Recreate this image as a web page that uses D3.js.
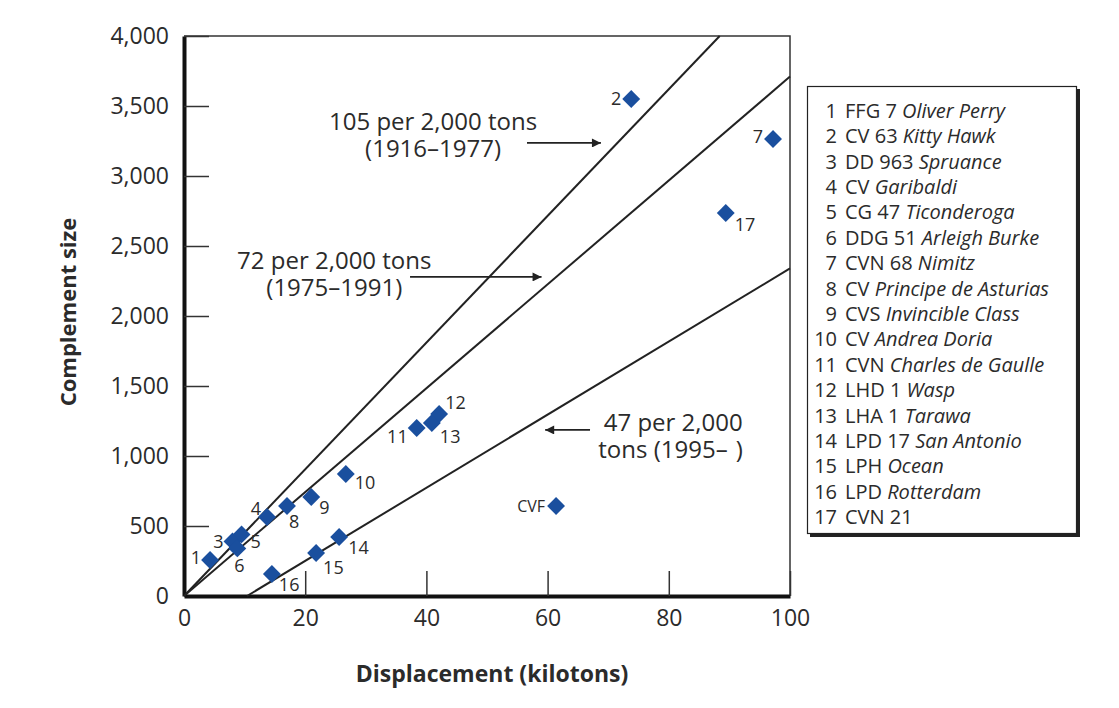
<!DOCTYPE html>
<html>
<head>
<meta charset="utf-8">
<script src="https://cdn.jsdelivr.net/npm/d3@7"></script>
<style>
  body { margin: 0; background: #fff; }
  text { font-family: "Open Sans", "Noto Sans", sans-serif; fill: #2b2b2b; }
</style>
</head>
<body>
<div id="chart"></div>
<script>
// ship points (displacement in kilotons, complement)
var shipLabels   = ["1","2","3","4","5","6","7","8","9","10","11","12","13","14","15","16","17","CVF"];
var displacement = [4.3, 73.8, 8.0, 13.7, 9.5, 8.8, 97.2, 17.0, 21.0, 26.7, 38.4, 42.1, 40.9, 25.6, 21.8, 14.5, 89.4, 61.4];
var complement   = [257, 3550, 390, 564, 440, 340, 3264, 643, 707, 871, 1200, 1300, 1236, 421, 307, 157, 2736, 643];

// trend lines, end points
var trendNames = ["105 per 2,000 tons", "72 per 2,000 tons", "47 per 2,000 tons"];
var trendX0 = [0, 0, 10.4];
var trendY0 = [0, 0, 0];
var trendX1 = [88.4, 100, 100];
var trendY1 = [4000, 3710, 2340];

// legend
var legendNum   = ["1","2","3","4","5","6","7","8","9","10","11","12","13","14","15","16","17"];
var legendClass = ["FFG 7","CV 63","DD 963","CV","CG 47","DDG 51","CVN 68","CV","CVS","CV","CVN","LHD 1","LHA 1","LPD 17","LPH","LPD","CVN 21"];
var legendName  = ["Oliver Perry","Kitty Hawk","Spruance","Garibaldi","Ticonderoga","Arleigh Burke","Nimitz",
                   "Principe de Asturias","Invincible Class","Andrea Doria","Charles de Gaulle","Wasp","Tarawa",
                   "San Antonio","Ocean","Rotterdam",""];

var xTicks = [0, 20, 40, 60, 80, 100];
var yTicks = [0, 500, 1000, 1500, 2000, 2500, 3000, 3500, 4000];

// where each point label sits relative to its marker
var labelPos = {
  "1": ["end", -9, -2], "2": ["end", -10, 0], "3": ["end", -9, 0], "4": ["end", -6, -8],
  "5": ["start", 9, 7], "6": ["middle", 2, 17], "7": ["end", -10, -2], "8": ["start", 2, 16],
  "9": ["start", 8, 11], "10": ["start", 9, 9], "11": ["end", -9, 9], "12": ["start", 6, -11],
  "13": ["start", 8, 14], "14": ["start", 9, 11], "15": ["start", 7, 15], "16": ["start", 7, 11],
  "17": ["start", 9, 12], "CVF": ["end", -11, 0]
};

const W = 1119, H = 708;
const svg = d3.select("#chart").append("svg")
  .attr("width", W).attr("height", H);

const x = d3.scaleLinear().domain([0, 100]).range([184, 790]);
const y = d3.scaleLinear().domain([0, 4000]).range([596, 36]);

svg.append("defs").append("marker")
  .attr("id", "arrow")
  .attr("viewBox", "0 0 10 10")
  .attr("refX", 10).attr("refY", 5)
  .attr("markerWidth", 10).attr("markerHeight", 9)
  .attr("markerUnits", "userSpaceOnUse")
  .attr("orient", "auto")
  .append("path").attr("d", "M0,0 L10,5 L0,10 z").attr("fill", "#222");

// frame (top and right thin)
svg.append("path")
  .attr("d", `M${x(0)},${y(4000)} H${x(100)} V${y(0)}`)
  .attr("fill", "none").attr("stroke", "#333").attr("stroke-width", 1.5);

// axes
const xAxis = svg.append("g")
  .attr("transform", `translate(0,${y(0)})`)
  .call(d3.axisBottom(x).tickValues(xTicks).tickSizeInner(-25).tickSizeOuter(0).tickPadding(14));
const yAxis = svg.append("g")
  .attr("transform", `translate(${x(0)},0)`)
  .call(d3.axisLeft(y).tickValues(yTicks).tickSizeInner(-25).tickSizeOuter(0).tickPadding(15)
    .tickFormat(d3.format(",")));

[xAxis, yAxis].forEach(function(g) {
  g.select(".domain").attr("stroke", "#111").attr("stroke-width", 4);
  g.selectAll(".tick line").attr("stroke", "#333").attr("stroke-width", 1.5);
  g.selectAll(".tick text").attr("font-size", 23).attr("fill", "#2b2b2b")
    .attr("font-family", "'Open Sans', sans-serif");
});
xAxis.selectAll(".tick").filter(function(d) { return d === 0; }).select("line").remove();
yAxis.selectAll(".tick").filter(function(d) { return d === 0; }).select("line").remove();

// axis titles
svg.append("text")
  .attr("x", 492).attr("y", 682)
  .attr("text-anchor", "middle").attr("font-size", 23).attr("font-weight", "bold")
  .text("Displacement (kilotons)");
svg.append("text")
  .attr("transform", "translate(76,312) rotate(-90)")
  .attr("text-anchor", "middle").attr("font-size", 22).attr("font-weight", "bold")
  .text("Complement size");

// trend lines
svg.append("g").selectAll("line")
  .data(trendNames)
  .join("line")
    .attr("x1", function(d, i) { return x(trendX0[i]); })
    .attr("y1", function(d, i) { return y(trendY0[i]); })
    .attr("x2", function(d, i) { return x(trendX1[i]); })
    .attr("y2", function(d, i) { return y(trendY1[i]); })
    .attr("stroke", "#222").attr("stroke-width", 2);

// annotations
var notes = [
  { lines: ["105 per 2,000 tons", "(1916\u20131977)"], x: 41.1, y: 3331, anchor: "middle", arrow: [56.6, 3236, 68.8, 3236] },
  { lines: ["72 per 2,000 tons", "(1975\u20131991)"], x: 24.8, y: 2339, anchor: "middle", arrow: [37.3, 2279, 59.0, 2279] },
  { lines: ["47 per 2,000", "tons (1995\u2013\u2009\u2009)"], x: 92.2, y: 1181, anchor: "end", arrow: [67.0, 1186, 59.6, 1186] }
];
notes.forEach(function(n) {
  n.lines.forEach(function(s, i) {
    svg.append("text")
      .attr("x", x(n.x)).attr("y", y(n.y) + i * 27)
      .attr("text-anchor", n.anchor).attr("font-size", 24)
      .text(s);
  });
  svg.append("line")
    .attr("x1", x(n.arrow[0])).attr("y1", y(n.arrow[1]))
    .attr("x2", x(n.arrow[2])).attr("y2", y(n.arrow[3]))
    .attr("stroke", "#222").attr("stroke-width", 1.8)
    .attr("marker-end", "url(#arrow)");
});

// points
const diamond = d3.symbol().type(d3.symbolSquare).size(160);
svg.append("g").selectAll("path")
  .data(shipLabels)
  .join("path")
    .attr("d", diamond)
    .attr("transform", function(d, i) {
      return `translate(${x(displacement[i])},${y(complement[i])}) rotate(45)`;
    })
    .attr("fill", "#1a4f9e");

svg.append("g").selectAll("text")
  .data(shipLabels)
  .join("text")
    .attr("x", function(d, i) { return x(displacement[i]) + labelPos[d][1]; })
    .attr("y", function(d, i) { return y(complement[i]) + labelPos[d][2]; })
    .attr("dy", "0.35em")
    .attr("text-anchor", function(d) { return labelPos[d][0]; })
    .attr("font-size", d => d === "CVF" ? 16 : 18)
    .text(function(d) { return d; });

// legend
const lg = svg.append("g");
lg.append("rect")
  .attr("x", 810).attr("y", 89).attr("width", 270).attr("height", 448)
  .attr("fill", "#222");
lg.append("rect")
  .attr("x", 807.5).attr("y", 86.5).attr("width", 269).attr("height", 447)
  .attr("fill", "#fff").attr("stroke", "#222").attr("stroke-width", 1.2);

const ly = d3.scaleBand().domain(legendNum).range([98, 530]);
const rows = lg.selectAll("g.row")
  .data(legendNum)
  .join("g").attr("class", "row")
  .attr("transform", function(d) { return `translate(0,${ly(d) + ly.bandwidth() / 2})`; });
rows.append("text")
  .attr("x", 837).attr("dy", "0.35em")
  .attr("text-anchor", "end").attr("font-size", 20)
  .text(function(d) { return d; });
const rt = rows.append("text")
  .attr("x", 845).attr("dy", "0.35em").attr("font-size", 20);
rt.append("tspan").text(function(d, i) { return legendClass[i] + " "; });
rt.append("tspan").attr("font-style", "italic").text(function(d, i) { return legendName[i]; });
</script>
</body>
</html>
